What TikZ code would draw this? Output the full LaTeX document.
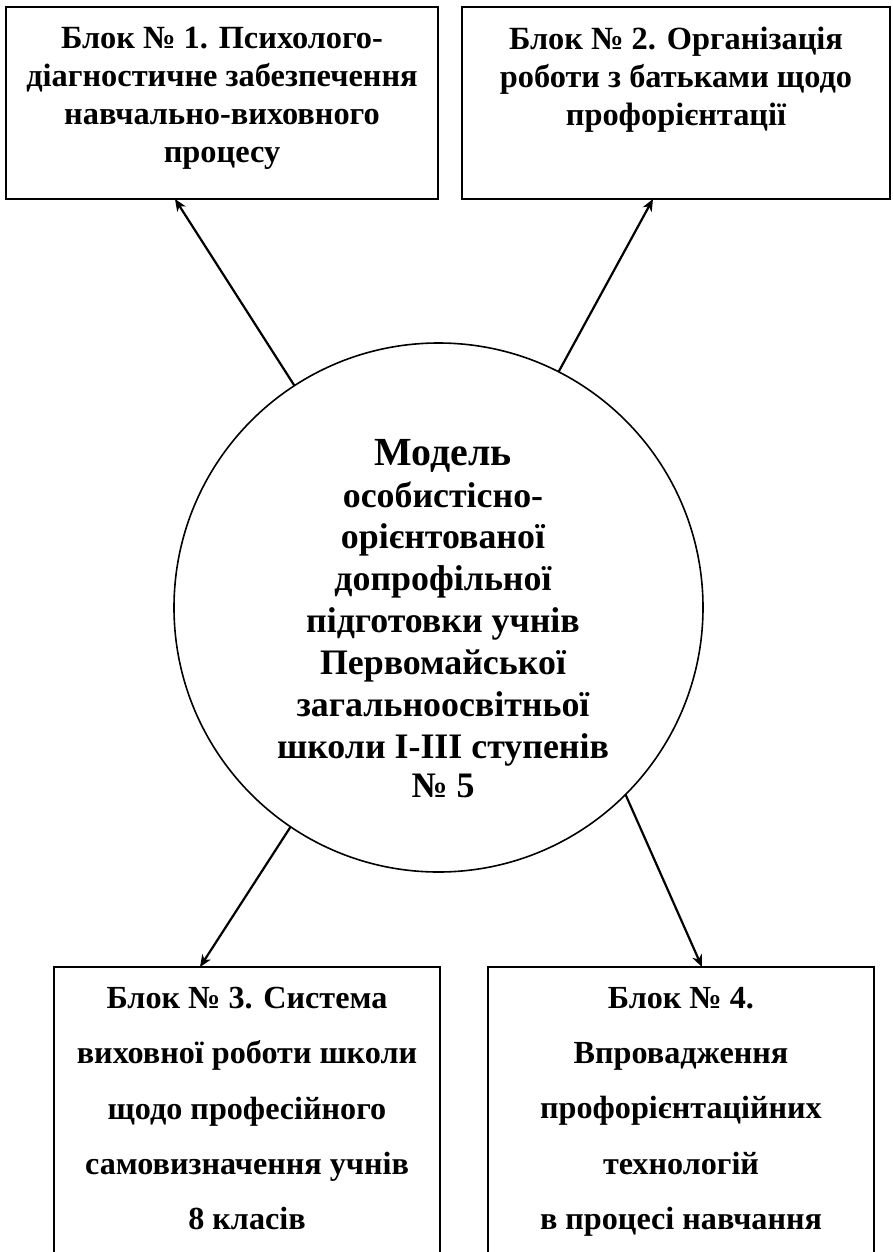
\documentclass[tikz,border=0pt]{standalone}
\usepackage{fontspec}
\setmainfont{Liberation Serif}
\usetikzlibrary{arrows.meta}
\begin{document}
\begin{tikzpicture}[x=1bp,y=-1bp,
  frame/.style={draw, line width=2.2bp, inner sep=0pt, outer sep=0pt},
  topbox/.style={frame, minimum height=192bp},
  botbox/.style={frame, line width=1.8bp, minimum width=386bp, minimum height=340bp, anchor=north},
  boxtext/.style={align=center, inner sep=0pt, anchor=north, font=\bfseries\fontsize{32.5}{38}\selectfont},
  bottext/.style={boxtext, font=\bfseries\fontsize{32.3}{55.5}\selectfont},
  modelcircle/.style={draw, circle, line width=1.6bp, inner sep=0pt, outer sep=0pt, minimum size=529bp},
  arr/.style={line width=2.2bp, -{Stealth[length=12bp,width=10bp,inset=3.5bp]}}]
\path[use as bounding box, clip] (0,0) rectangle (893,1252);

\node[topbox, minimum width=432bp] (b1) at (222,103) {};
\node[topbox, minimum width=428bp] (b2) at (676,103) {};
\node[botbox] (b3) at (247,967) {};
\node[botbox] (b4) at (681,967) {};
\node[modelcircle] (m) at (438.5,607.5) {};

\node[boxtext] (t1) at (222,27) {Блок № 1. Психолого-\\діагностичне забезпечення\\навчально-виховного\\процесу};
\node[boxtext] (t2) at (676,27) {Блок № 2. Організація\\роботи з батьками щодо\\профорієнтації};
\node[bottext] (t3) at (247,987) {Блок № 3. Система\\виховної роботи школи\\щодо професійного\\самовизначення учнів\\8 класів};
\node[bottext] (t4) at (681,987) {Блок № 4.\\Впровадження\\профорієнтаційних\\технологій\\в процесі навчання};
\node[align=center, inner sep=0pt, anchor=north, font=\bfseries\fontsize{36}{42}\selectfont] (tm) at (443,439)
  {{\fontsize{40}{46}\selectfont Модель}\\особистісно-\\орієнтованої\\допрофільної\\підготовки учнів\\Первомайської\\загальноосвітньої\\школи І-ІІІ ступенів\\[-3bp]№ 5};

\draw[arr] (m.123.8) -- ([xshift=-47bp]b1.south);
\draw[arr] (m.63.6) -- ([xshift=-23bp]b2.south);
\draw[arr] (m.236.3) -- ([xshift=-47bp]b3.north);
\draw[arr] (m.315.3) -- ([xshift=21bp]b4.north);
\end{tikzpicture}
\end{document}
